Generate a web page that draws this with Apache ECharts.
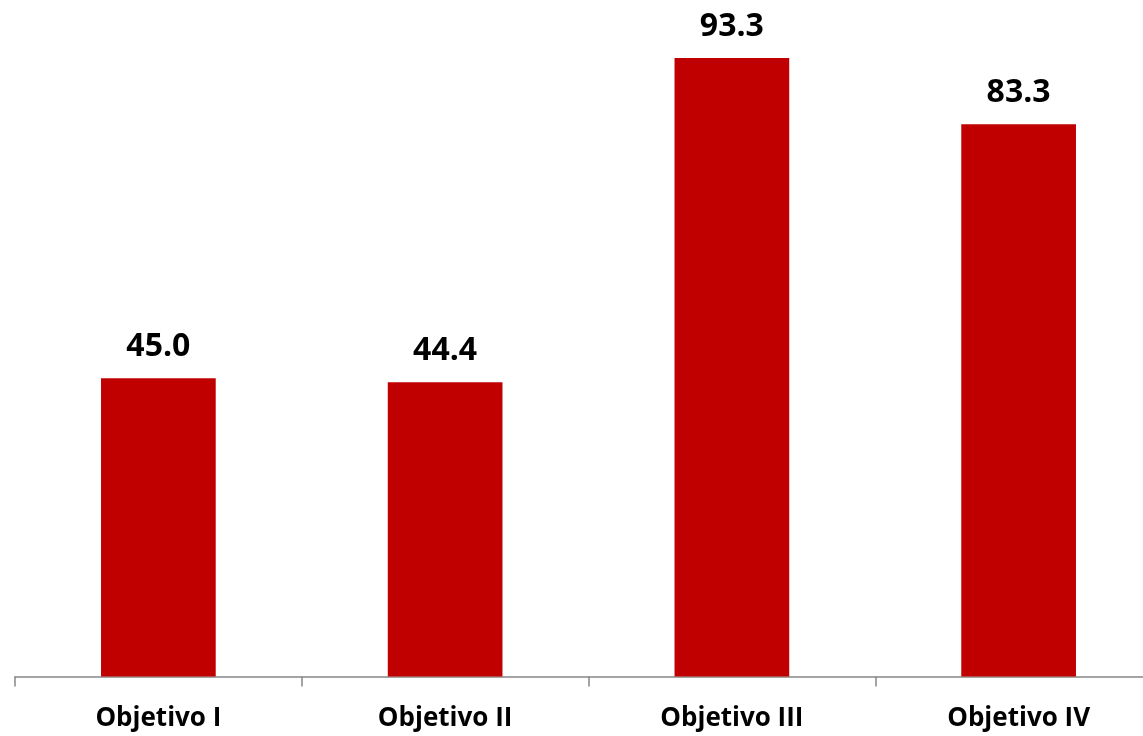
<!DOCTYPE html>
<html>
<head>
<meta charset="utf-8">
<script src="https://cdn.jsdelivr.net/npm/echarts@6/dist/echarts.min.js"></script>
<style>
html,body{margin:0;padding:0;background:#fff;overflow:hidden;width:1143px;height:736px;}
#chart{width:1162px;height:736px;}
</style>
</head>
<body>
<div id="chart"></div>
<script>
var categories = ['Objetivo I', 'Objetivo II', 'Objetivo III', 'Objetivo IV'];
var values = [45.0, 44.4, 93.3, 83.3];

var chart = echarts.init(document.getElementById('chart'));
chart.setOption({
  animation: false,
  grid: {left: 15, right: 0, top: 13.5, bottom: 59.5, containLabel: false},
  xAxis: {
    type: 'category',
    data: categories,
    axisLine: {lineStyle: {color: '#868686', width: 1.5}},
    axisTick: {show: true, length: 10, lineStyle: {color: '#868686', width: 1.5}},
    axisLabel: {color: '#000', fontFamily: 'Open Sans', fontWeight: 'bold', fontSize: 26, margin: 29}
  },
  yAxis: {
    type: 'value', min: 0, max: 100, show: false,
    splitLine: {show: false}
  },
  series: [{
    type: 'bar',
    data: values,
    barWidth: '40%',
    itemStyle: {color: '#C00000'},
    label: {
      show: true, position: 'top', distance: 15,
      formatter: function (p) { return p.value.toFixed(1); },
      color: '#000', fontFamily: 'Open Sans', fontWeight: 'bold', fontSize: 32
    }
  }]
});
</script>
</body>
</html>
